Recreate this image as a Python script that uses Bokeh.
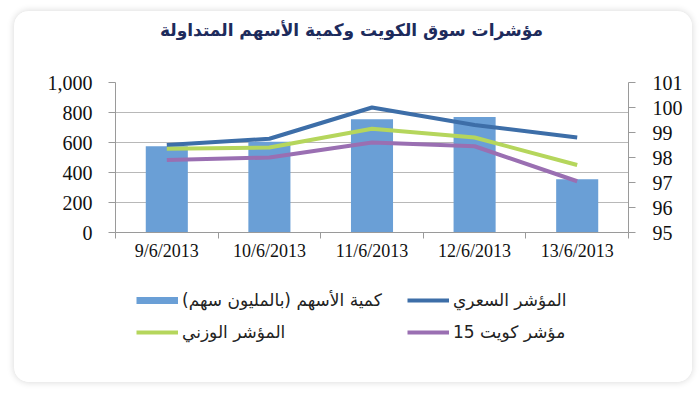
import numpy as np
from bokeh.plotting import figure
from bokeh.layouts import column, row
from bokeh.models import (Range1d, LinearAxis, FixedTicker, Legend, LegendItem,
                          Label, ColumnDataSource, NumeralTickFormatter, Spacer)
from bokeh.embed import file_html
from bokeh.resources import INLINE

# ---- data ----
dates = ["9/6/2013", "10/6/2013", "11/6/2013", "12/6/2013", "13/6/2013"]
volume = [575, 605, 755, 770, 355]                  # كمية الأسهم (بالمليون سهم)
price_index = [98.5, 98.75, 100.0, 99.3, 98.8]      # المؤشر السعري
weighted_index = [98.35, 98.4, 99.15, 98.8, 97.7]   # المؤشر الوزني
kuwait15 = [97.9, 98.0, 98.6, 98.45, 97.05]         # مؤشر كويت 15
left_ticks = [0, 200, 400, 600, 800, 1000]
right_ticks = [95, 96, 97, 98, 99, 100, 101]

title_text = "مؤشرات سوق الكويت وكمية الأسهم المتداولة"
lab_vol = "كمية الأسهم (بالمليون سهم)\u200f"
lab_price = "المؤشر السعري"
lab_weight = "المؤشر الوزني"
lab_k15 = "مؤشر كويت 15"

BAR = "#6a9fd6"
BLUE = "#3d6ea8"
GREEN = "#b5d65c"
PURPLE = "#9a6fb2"
GRID = "#b8b8b8"
AXIS = "#9a9a9a"
W = 678

n = len(dates)
xc = np.arange(n) + 0.5
src = ColumnDataSource(dict(x=xc, vol=volume, p=price_index, w=weighted_index, k=kuwait15))

# ---- title strip (frame aligned with chart frame by the column layout) ----
pt = figure(width=W, height=40, x_range=Range1d(0, 1), y_range=Range1d(0, 1),
            output_backend="svg", toolbar_location=None, title=None, min_border=0,
            x_axis_location=None, y_axis_location=None)
pt.outline_line_color = None
pt.xgrid.visible = False
pt.ygrid.visible = False
pt.add_layout(Label(x=236, y=22, x_units="screen", y_units="screen", text=title_text,
                    text_align="center", text_baseline="middle",
                    text_font="DejaVu Sans", text_font_style="bold",
                    text_font_size="17px", text_color="#1d2b5c"))

# ---- chart ----
p = figure(width=W, height=222, x_range=Range1d(0, n), y_range=Range1d(0, 1000),
           output_backend="svg", toolbar_location=None, title=None,
           min_border_left=101, min_border_right=64, min_border_top=31, min_border_bottom=41,
           x_axis_location=None, y_axis_location=None)
p.outline_line_color = None
p.extra_y_ranges = {"r": Range1d(95, 101)}

xaxis = LinearAxis(ticker=FixedTicker(ticks=list(xc), minor_ticks=list(np.arange(n + 1))))
xaxis.major_label_overrides = {float(v): d for v, d in zip(xc, dates)}
xaxis.major_tick_line_color = None
xaxis.minor_tick_in = 0
xaxis.minor_tick_out = 6
xaxis.minor_tick_line_color = AXIS
xaxis.axis_line_color = AXIS
xaxis.major_label_standoff = 2
xaxis.major_label_text_font = "Liberation Serif"
xaxis.major_label_text_font_size = "18px"
xaxis.major_label_text_color = "#111111"
p.add_layout(xaxis, "below")

lax = LinearAxis(ticker=FixedTicker(ticks=left_ticks), formatter=NumeralTickFormatter(format="0,0"))
lax.major_tick_in = 0
lax.major_tick_out = 7
lax.minor_tick_line_color = None
lax.axis_line_color = AXIS
lax.major_tick_line_color = AXIS
lax.major_label_standoff = 16
lax.major_label_text_font = "Liberation Serif"
lax.major_label_text_font_size = "20px"
lax.major_label_text_color = "#111111"
p.add_layout(lax, "left")

rax = LinearAxis(y_range_name="r", ticker=FixedTicker(ticks=right_ticks))
rax.major_tick_in = 0
rax.major_tick_out = 7
rax.minor_tick_line_color = None
rax.axis_line_color = AXIS
rax.major_tick_line_color = AXIS
rax.major_label_standoff = 17
rax.major_label_text_font = "Liberation Serif"
rax.major_label_text_font_size = "20px"
rax.major_label_text_color = "#111111"
p.add_layout(rax, "right")

p.xgrid.visible = False
p.ygrid.ticker = FixedTicker(ticks=left_ticks)
p.ygrid.grid_line_color = GRID
p.ygrid.grid_line_width = 1.2

p.vbar(x="x", top="vol", width=0.41, source=src, fill_color=BAR, line_color=None)
p.line(x="x", y="p", source=src, y_range_name="r", line_color=BLUE, line_width=4)
p.line(x="x", y="w", source=src, y_range_name="r", line_color=GREEN, line_width=4)
p.line(x="x", y="k", source=src, y_range_name="r", line_color=PURPLE, line_width=4)

# ---- legend strip (frame aligned with chart frame) ----
pl = figure(width=W, height=109, x_range=Range1d(0, 1), y_range=Range1d(0, 1),
            output_backend="svg", toolbar_location=None, title=None, min_border=0,
            x_axis_location=None, y_axis_location=None)
pl.outline_line_color = None
pl.xgrid.visible = False
pl.ygrid.visible = False
nan = [float("nan")]
k_bar = pl.line(x=nan, y=nan, line_color=BAR, line_width=7)
k_p = pl.line(x=nan, y=nan, line_color=BLUE, line_width=4)
k_w = pl.line(x=nan, y=nan, line_color=GREEN, line_width=4)
k_k = pl.line(x=nan, y=nan, line_color=PURPLE, line_width=4)


def mk_legend(items, loc):
    lg = Legend(items=items, location=loc, orientation="horizontal",
                glyph_width=42, glyph_height=20, label_standoff=4, label_width=225,
                label_height=20, spacing=0, padding=0, margin=0,
                border_line_color=None, background_fill_alpha=0,
                label_text_font="DejaVu Sans", label_text_font_size="17px",
                label_text_color="#222222")
    pl.add_layout(lg, "center")


mk_legend([LegendItem(label=lab_vol, renderers=[k_bar]),
           LegendItem(label=lab_price, renderers=[k_p])], (21, 72))
mk_legend([LegendItem(label=lab_weight, renderers=[k_w]),
           LegendItem(label=lab_k15, renderers=[k_k])], (21, 40))

box = column(pt, p, pl, spacing=0,
             styles={"border-radius": "15px", "overflow": "hidden", "background": "white",
                     "box-shadow": "0 0 6px 1px rgba(0,0,0,0.13)"})
page = column(Spacer(height=11), row(Spacer(width=14), box, spacing=0), spacing=0)

open("out.html", "w").write(file_html(page, INLINE))
